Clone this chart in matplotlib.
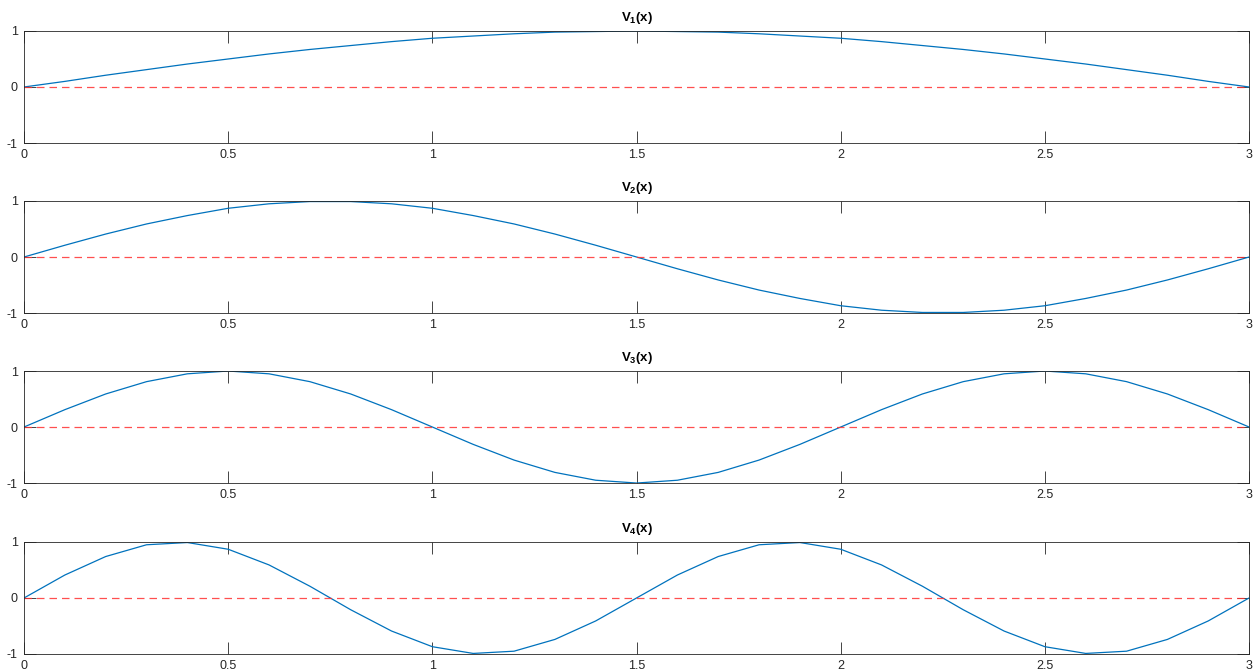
import matplotlib.pyplot as plt

plt.rcParams['font.family'] = ['Liberation Sans', 'DejaVu Sans']
plt.rcParams['mathtext.fontset'] = 'custom'
plt.rcParams['mathtext.rm'] = 'Liberation Sans:bold'
plt.rcParams['mathtext.bf'] = 'Liberation Sans:bold'

# sample points along x (0 .. 3, step 0.1)
x = [0.0, 0.1, 0.2, 0.3, 0.4, 0.5, 0.6, 0.7, 0.8, 0.9, 1.0,
     1.1, 1.2, 1.3, 1.4, 1.5, 1.6, 1.7, 1.8, 1.9, 2.0,
     2.1, 2.2, 2.3, 2.4, 2.5, 2.6, 2.7, 2.8, 2.9, 3.0]

# mode shapes
v1 = [0, .10, .21, .31, .41, .50, .59, .67, .74, .81, .87,
      .91, .95, .98, .99, 1.0, .99, .98, .95, .91, .87,
      .81, .74, .67, .59, .50, .41, .31, .21, .10, 0]
v2 = [0, .21, .41, .59, .74, .87, .95, .99, .99, .95, .87,
      .74, .59, .41, .21, 0, -.21, -.41, -.59, -.74, -.87,
      -.95, -.99, -.99, -.95, -.87, -.74, -.59, -.41, -.21, 0]
v3 = [0, .31, .59, .81, .95, 1.0, .95, .81, .59, .31, 0,
      -.31, -.59, -.81, -.95, -1.0, -.95, -.81, -.59, -.31, 0,
      .31, .59, .81, .95, 1.0, .95, .81, .59, .31, 0]
v4 = [0, .41, .74, .95, .99, .87, .59, .21, -.21, -.59, -.87,
      -.99, -.95, -.74, -.41, 0, .41, .74, .95, .99, .87,
      .59, .21, -.21, -.59, -.87, -.99, -.95, -.74, -.41, 0]
modes = [v1, v2, v3, v4]
titles = [r'V$_1$(x)', r'V$_2$(x)', r'V$_3$(x)', r'V$_4$(x)']

# zero reference line
ref_x = [0, 3]
ref_y = [0, 0]

xticks = [0, 0.5, 1, 1.5, 2, 2.5, 3]
xticklabels = ['0', '0.5', '1', '1.5', '2', '2.5', '3']
yticks = [-1, 0, 1]
yticklabels = ['-1', '0', '1']

fig = plt.figure(figsize=(12.58, 6.72), dpi=100)

bottoms = [0.7872, 0.5342, 0.2812, 0.0268]
for i in range(4):
    ax = fig.add_axes([0.0191, bottoms[i], 0.9738, 0.1667])
    ax.plot(x, modes[i], color='#0072BD', linewidth=0.9)
    ax.plot(ref_x, ref_y, linestyle=(0, (6, 4)), color='#ff3030', linewidth=0.9,
            alpha=0.85, snap=True)
    ax.set_xlim(0, 3)
    ax.set_ylim(-1, 1)
    ax.set_xticks(xticks)
    ax.set_xticklabels(xticklabels)
    ax.set_yticks(yticks)
    ax.set_yticklabels(yticklabels)
    ax.tick_params(direction='in', top=True, right=True, length=8.6, width=0.6,
                   labelsize=9, colors='#262626')
    ax.tick_params(axis='x', pad=4)
    ax.tick_params(axis='y', pad=4.5)
    for s in ax.spines.values():
        s.set_color('#262626')
        s.set_linewidth(0.6)
    ax.set_title(titles[i], fontsize=9.5, fontweight='bold', pad=7, color='black')

plt.savefig('out.png', dpi=100)
